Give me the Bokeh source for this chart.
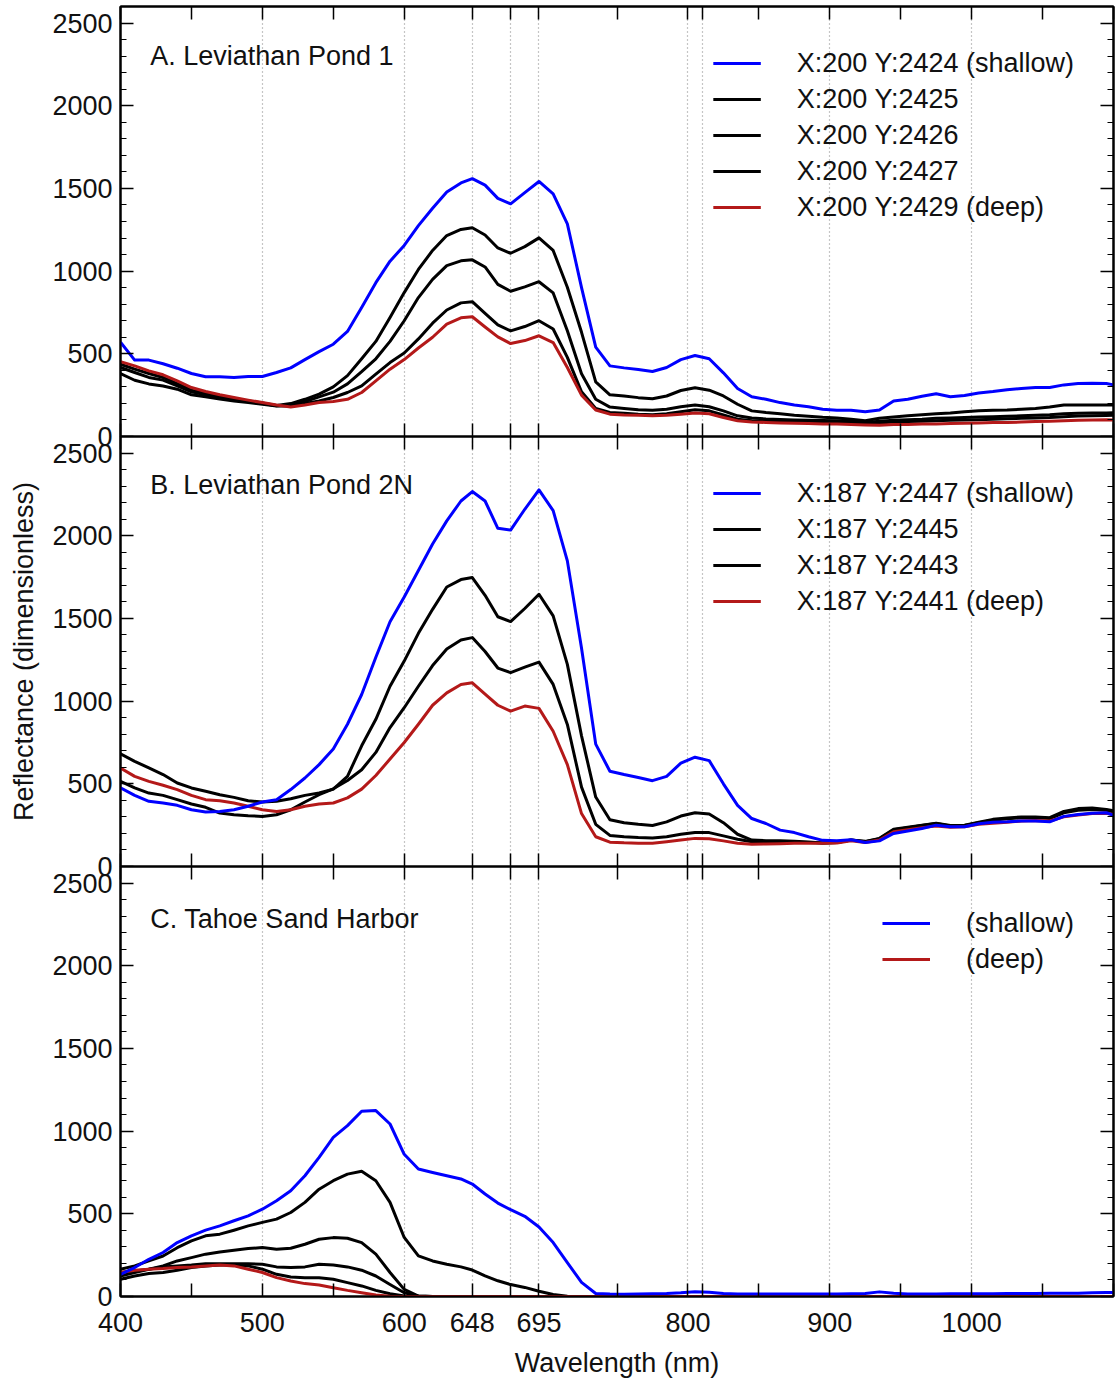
from bokeh.plotting import figure
from bokeh.models import Range1d, FixedTicker, LinearAxis, Legend, LegendItem, Label
from bokeh.layouts import column
from bokeh.embed import file_html
from bokeh.resources import INLINE

FONT = "Liberation Sans"
BLUE = "#0000ff"
RED = "#b41919"
BLACK = "#000000"
TEXT = "#111111"
OVERLAP = 16  # room under an upper panel for its "0" label, hidden under the next panel

# Band centres (nm) shared by every spectrum
wavelength = (list(range(400, 641, 10)) + [648, 657, 666, 675, 685, 695]
              + list(range(705, 1096, 10)) + [1100])

# ---- A. Leviathan Pond 1 -------------------------------------------------
a_2424 = [570, 462, 462, 440, 413, 381, 361, 361, 357, 363,
          363, 387, 415, 465, 513, 558, 635, 780, 930, 1060,
          1155, 1275, 1380, 1478, 1533,
          1559, 1520, 1440, 1407, 1475, 1542,
          1467, 1286, 900, 540, 427, 415, 405, 393, 417, 465,
          490, 470, 385, 290, 240, 225, 205, 190, 180, 165,
          159, 159, 150, 160, 215, 225, 243, 258, 240, 248,
          263, 272, 283, 290, 296, 296, 312, 320, 322, 320,
          312]
a_2425 = [437, 407, 381, 357, 320, 280, 260, 244, 230, 215,
          203, 188, 199, 225, 256, 300, 368, 470, 575, 720,
          870, 1010, 1125, 1215, 1252,
          1262, 1218, 1140, 1108, 1148, 1201,
          1125, 902, 630, 330, 252, 245, 235, 228, 245, 278,
          295, 280, 245, 195, 155, 145, 138, 128, 122, 116,
          112, 105, 95, 110, 118, 125, 132, 138, 142, 150,
          155, 158, 160, 165, 170, 178, 190, 190, 190, 190,
          191]
a_2426 = [417, 387, 357, 341, 306, 270, 252, 236, 226, 211,
          199, 186, 191, 211, 240, 268, 318, 392, 470, 575,
          700, 840, 950, 1033, 1062,
          1068, 1025, 920, 878, 905, 936,
          868, 639, 380, 225, 178, 170, 162, 158, 165, 180,
          190, 180, 155, 125, 112, 106, 103, 100, 98, 96,
          95, 92, 85, 92, 98, 102, 105, 110, 112, 115,
          118, 120, 122, 125, 128, 132, 138, 140, 142, 142,
          143]
a_2427 = [381, 340, 318, 305, 286, 252, 240, 226, 215, 205,
          195, 184, 185, 199, 215, 236, 266, 306, 377, 447,
          505, 590, 685, 765, 808,
          815, 745, 675, 639, 665, 700,
          650, 478, 270, 170, 145, 140, 135, 132, 138, 150,
          162, 155, 130, 105, 95, 92, 90, 88, 88, 86,
          86, 85, 80, 82, 88, 90, 92, 95, 98, 100,
          102, 105, 108, 110, 112, 115, 120, 124, 126, 127,
          128]
a_2429 = [453, 427, 397, 373, 336, 296, 272, 252, 236, 220,
          205, 190, 179, 191, 205, 212, 225, 266, 336, 407,
          465, 535, 600, 680, 718,
          724, 662, 602, 562, 580, 609,
          568, 417, 250, 160, 135, 130, 128, 125, 128, 135,
          142, 138, 115, 95, 88, 85, 82, 80, 78, 76,
          75, 72, 70, 68, 72, 72, 75, 76, 78, 80,
          82, 84, 85, 87, 90, 92, 95, 98, 100, 102,
          100]

# ---- B. Leviathan Pond 2N ------------------------------------------------
b_2447 = [475, 430, 394, 384, 370, 343, 329, 333, 343, 364,
          390, 404, 465, 535, 616, 710, 860, 1040, 1265, 1480,
          1630, 1790, 1950, 2090, 2210,
          2267, 2210, 2045, 2034, 2160, 2277,
          2152, 1848, 1320, 740, 576, 556, 538, 519, 545, 625,
          661, 640, 500, 370, 290, 260, 220, 205, 180, 158,
          155, 162, 145, 155, 200, 215, 230, 250, 240, 240,
          258, 268, 270, 275, 275, 270, 303, 315, 322, 325,
          310]
b_2445 = [681, 636, 596, 556, 505, 475, 455, 434, 418, 398,
          390, 394, 410, 430, 444, 468, 545, 730, 890, 1090,
          1242, 1410, 1555, 1690, 1735,
          1747, 1640, 1510, 1481, 1560, 1646,
          1515, 1222, 790, 420, 283, 265, 255, 248, 270, 305,
          325, 318, 265, 195, 160, 156, 155, 152, 148, 142,
          145, 160, 152, 170, 225, 238, 250, 262, 248, 250,
          268, 285, 293, 300, 300, 295, 333, 350, 354, 345,
          337]
b_2443 = [515, 475, 444, 430, 404, 378, 358, 323, 313, 307,
          303, 313, 343, 390, 434, 470, 520, 585, 690, 840,
          960, 1090, 1215, 1315, 1370,
          1384, 1300, 1200, 1172, 1205, 1236,
          1101, 859, 480, 255, 188, 180, 175, 172, 180, 195,
          206, 205, 185, 165, 150, 148, 147, 147, 145, 142,
          145, 160, 150, 168, 222, 235, 248, 260, 245, 248,
          265, 280, 288, 295, 296, 290, 325, 340, 345, 340,
          330]
b_2441 = [596, 545, 515, 491, 465, 430, 404, 398, 384, 364,
          343, 333, 343, 364, 378, 384, 415, 468, 550, 650,
          750, 860, 975, 1050, 1100,
          1111, 1042, 975, 939, 970, 956,
          818, 616, 320, 180, 147, 143, 141, 141, 150, 160,
          170, 168, 155, 141, 135, 136, 138, 140, 140, 140,
          142, 155, 145, 160, 210, 222, 235, 245, 238, 240,
          255, 262, 268, 275, 278, 275, 300, 312, 320, 322,
          315]

# ---- C. Tahoe Sand Harbor ------------------------------------------------
c_shallow = [134, 175, 225, 266, 326, 367, 401, 427, 458, 488,
             528, 579, 639, 730, 841, 962, 1033, 1120, 1124, 1043,
             860, 771, 750, 730, 711,
             680, 620, 565, 525, 485, 420,
             326, 205, 85, 18, 15, 14, 15, 16, 18, 22,
             28, 26, 18, 15, 15, 15, 15, 15, 15, 15,
             15, 16, 18, 28, 20, 15, 15, 15, 16, 16,
             17, 17, 18, 18, 18, 20, 20, 20, 22, 24,
             24]
c_mid1 = [165, 185, 215, 245, 295, 336, 367, 377, 401, 427,
          448, 468, 508, 569, 649, 700, 740, 757, 700, 569,
          357, 246, 215, 195, 179,
          160, 125, 95, 72, 55, 32,
          12, 2, 0, 0, 0, 0, 0, 0, 0, 0,
          0, 0, 0, 0, 0, 0, 0, 0, 0, 0,
          0, 0, 0, 0, 0, 0, 0, 0, 0, 0,
          0, 0, 0, 0, 0, 0, 0, 0, 0, 0,
          0]
c_mid2 = [124, 145, 165, 185, 215, 235, 256, 269, 280, 290,
          296, 286, 292, 316, 346, 356, 352, 326, 256, 145,
          43, 3, 0, 0, 0,
          0, 0, 0, 0, 0, 0,
          0, 0, 0, 0, 0, 0, 0, 0, 0, 0,
          0, 0, 0, 0, 0, 0, 0, 0, 0, 0,
          0, 0, 0, 0, 0, 0, 0, 0, 0, 0,
          0, 0, 0, 0, 0, 0, 0, 0, 0, 0,
          0]
c_mid3 = [145, 155, 165, 179, 185, 190, 198, 198, 198, 198,
          195, 179, 175, 179, 195, 190, 179, 159, 124, 73,
          23, 3, 0, 0, 0,
          0, 0, 0, 0, 0, 0,
          0, 0, 0, 0, 0, 0, 0, 0, 0, 0,
          0, 0, 0, 0, 0, 0, 0, 0, 0, 0,
          0, 0, 0, 0, 0, 0, 0, 0, 0, 0,
          0, 0, 0, 0, 0, 0, 0, 0, 0, 0,
          0]
c_mid4 = [104, 124, 139, 145, 159, 175, 185, 190, 190, 185,
          165, 134, 118, 114, 114, 104, 84, 64, 37, 17,
          3, 0, 0, 0, 0,
          0, 0, 0, 0, 0, 0,
          0, 0, 0, 0, 0, 0, 0, 0, 0, 0,
          0, 0, 0, 0, 0, 0, 0, 0, 0, 0,
          0, 0, 0, 0, 0, 0, 0, 0, 0, 0,
          0, 0, 0, 0, 0, 0, 0, 0, 0, 0,
          0]
c_deep = [145, 159, 165, 169, 175, 179, 185, 190, 185, 165,
          145, 114, 94, 78, 70, 53, 37, 23, 9, 1,
          0, 0, 0, 0, 0,
          0, 0, 0, 0, 0, 0,
          0, 0, 0, 0, 0, 0, 0, 0, 0, 0,
          0, 0, 0, 0, 0, 0, 0, 0, 0, 0,
          0, 0, 0, 0, 0, 0, 0, 0, 0, 0,
          0, 0, 0, 0, 0, 0, 0, 0, 0, 0,
          0]

# ---- axes ----------------------------------------------------------------
x_ticks = [400, 450, 500, 550, 600, 648, 675, 695, 750, 800, 810,
           850, 900, 950, 1000, 1050, 1100]
x_labeled = [400, 500, 600, 648, 695, 800, 900, 1000]
x_grid = [500, 600, 648, 675, 695, 800, 810, 900, 1000]
y_ticks = [0, 500, 1000, 1500, 2000, 2500]
y_minor = [v for v in range(100, 2600, 100) if v % 500]


def style_axis(ax, labels):
    ax.axis_line_color = BLACK
    ax.axis_line_width = 2
    ax.major_tick_in = 13
    ax.major_tick_out = 0
    ax.minor_tick_in = 6
    ax.minor_tick_out = 0
    ax.major_tick_line_color = BLACK
    ax.major_tick_line_width = 1.5
    ax.minor_tick_line_color = BLACK
    ax.minor_tick_line_width = 1.2
    if labels:
        ax.major_label_text_font = FONT
        ax.major_label_text_font_size = "27px"
        ax.major_label_text_color = TEXT
        ax.major_label_standoff = 8
    else:
        # tick marks only: the labels are switched off entirely
        ax.major_label_text_color = None
        ax.major_label_text_font_size = "0px"
        ax.major_label_standoff = 0


def panel(title, title_y, lines, legend_labels, top, bottom, xlabels,
          y_label=None, x_label=None, stacked=False):
    p = figure(frame_width=993, frame_height=430,
               x_range=Range1d(400, 1100), y_range=Range1d(0, 2600),
               output_backend="svg", toolbar_location=None,
               x_axis_location=None, y_axis_location=None,
               min_border_left=120, min_border_right=5,
               min_border_top=top, min_border_bottom=bottom,
               background_fill_color="white", border_fill_color="white")
    if stacked:
        # slide up over the strip below the previous panel; its border is
        # see-through so that panel's "0" label shows
        p.margin = (-OVERLAP, 0, 0, 0)
        p.border_fill_alpha = 0
    p.outline_line_color = BLACK
    p.outline_line_width = 2

    p.xgrid.ticker = FixedTicker(ticks=x_grid)
    p.xgrid.grid_line_color = "#8c8c8c"
    p.xgrid.grid_line_dash = "1 3"
    p.xgrid.grid_line_width = 1.2
    p.ygrid.visible = False

    xtick = FixedTicker(ticks=x_ticks, minor_ticks=[])
    ytick = FixedTicker(ticks=y_ticks, minor_ticks=y_minor)

    if xlabels:
        overrides = {v: "" for v in x_ticks if v not in x_labeled}
        bottom_ax = LinearAxis(ticker=xtick, major_label_overrides=overrides)
        style_axis(bottom_ax, True)
        bottom_ax.major_label_standoff = 16
    else:
        bottom_ax = LinearAxis(ticker=xtick)
        style_axis(bottom_ax, False)
    if x_label:
        bottom_ax.axis_label = x_label
        bottom_ax.axis_label_text_font = FONT
        bottom_ax.axis_label_text_font_size = "27px"
        bottom_ax.axis_label_text_font_style = "normal"
        bottom_ax.axis_label_text_color = TEXT
        bottom_ax.axis_label_standoff = 13
    p.add_layout(bottom_ax, "below")

    top_ax = LinearAxis(ticker=xtick)
    style_axis(top_ax, False)
    p.add_layout(top_ax, "above")

    left_ax = LinearAxis(ticker=ytick)
    style_axis(left_ax, True)
    if y_label:
        left_ax.axis_label = y_label
        left_ax.axis_label_text_font = FONT
        left_ax.axis_label_text_font_size = "27px"
        left_ax.axis_label_text_font_style = "normal"
        left_ax.axis_label_text_color = TEXT
        left_ax.axis_label_standoff = 10
    p.add_layout(left_ax, "left")

    right_ax = LinearAxis(ticker=ytick)
    style_axis(right_ax, False)
    p.add_layout(right_ax, "right")

    renderers = []
    for values, color in lines:
        renderers.append(p.line(wavelength, values, line_color=color,
                                line_width=3, line_join="round"))

    items = [LegendItem(label=lab, renderers=[renderers[i]])
             for i, lab in legend_labels]
    legend = Legend(items=items, location="top_right",
                    border_line_color=None, background_fill_alpha=0,
                    label_text_font=FONT, label_text_font_size="27px",
                    label_text_color=TEXT,
                    glyph_width=48, glyph_height=36, label_height=36,
                    label_standoff=36, spacing=0, padding=5, margin=39)
    p.add_layout(legend)

    p.add_layout(Label(x=421, y=title_y, text=title, text_font=FONT,
                       text_font_size="27px", text_color=TEXT,
                       text_baseline="middle"))
    return p


# draw order: intermediate depths first, deep, then shallow on top
pa = panel("A. Leviathan Pond 1", 2300,
           [(a_2425, BLACK), (a_2426, BLACK), (a_2427, BLACK),
            (a_2429, RED), (a_2424, BLUE)],
           [(4, "X:200 Y:2424 (shallow)"), (0, "X:200 Y:2425"),
            (1, "X:200 Y:2426"), (2, "X:200 Y:2427"),
            (3, "X:200 Y:2429 (deep)")],
           top=6, bottom=OVERLAP, xlabels=False)

pb = panel("B. Leviathan Pond 2N", 2305,
           [(b_2445, BLACK), (b_2443, BLACK), (b_2441, RED), (b_2447, BLUE)],
           [(3, "X:187 Y:2447 (shallow)"), (0, "X:187 Y:2445"),
            (1, "X:187 Y:2443"), (2, "X:187 Y:2441 (deep)")],
           top=0, bottom=OVERLAP, xlabels=False,
           y_label="Reflectance (dimensionless)", stacked=True)

pc = panel("C. Tahoe Sand Harbor", 2285,
           [(c_mid1, BLACK), (c_mid2, BLACK), (c_mid3, BLACK), (c_mid4, BLACK),
            (c_deep, RED), (c_shallow, BLUE)],
           [(5, "(shallow)"), (4, "(deep)")],
           top=0, bottom=88, xlabels=True, x_label="Wavelength (nm)",
           stacked=True)

layout = column(pa, pb, pc, spacing=0)
open("out.html", "w").write(file_html(layout, INLINE))
